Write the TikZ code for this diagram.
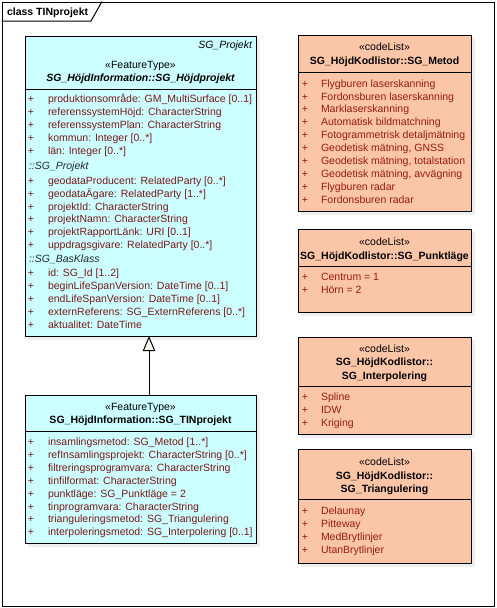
\documentclass[tikz,border=0pt]{standalone}
\usepackage{fontspec}
\setmainfont{Liberation Sans}
\usetikzlibrary{arrows.meta}
\definecolor{ftfill}{RGB}{204,255,255}
\definecolor{clfill}{RGB}{251,197,167}
\definecolor{attrcol}{RGB}{120,24,24}
\definecolor{clcol}{RGB}{150,28,18}
\definecolor{tipfill}{RGB}{248,244,236}
\definecolor{shadowcol}{RGB}{238,238,238}
\begin{document}
\begin{tikzpicture}[x=1pt,y=-1pt,
  box/.style={draw=black, line width=1pt, anchor=north west, inner sep=0, outer sep=0},
  ftbox/.style={box, fill=ftfill},
  clbox/.style={box, fill=clfill},
  shade/.style={fill=shadowcol, draw=none},
  txt/.style={inner sep=0, outer sep=0, font=\fontsize{10.5}{12}\selectfont},
  attr/.style={txt, anchor=base west, text=attrcol},
  plus/.style={txt, anchor=base, text=attrcol},
  clattr/.style={txt, anchor=base west, text=clcol},
  clplus/.style={txt, anchor=base, text=clcol},
  stereo/.style={txt, anchor=base},
  cname/.style={txt, anchor=base, font=\fontsize{10.5}{12}\selectfont\bfseries},
  grp/.style={txt, anchor=base west, font=\fontsize{10.5}{12}\selectfont\itshape, text=black!85},
  sepline/.style={line width=0.9pt},
  gen/.style={line width=1pt, -{Triangle[length=15pt, width=12.5pt, fill=tipfill]}}
]
\useasboundingbox (0,0) rectangle (496,608);

% frame
\node[draw=black, line width=1pt, anchor=north west, inner sep=0, minimum width=492.5pt, minimum height=604pt] (frame) at (1.5,1.5) {};
\draw[line width=1pt] (1.5,21) -- (91,21) -- (102,1.5);
\node[txt, anchor=base west, font=\fontsize{10.5}{12}\selectfont\bfseries] (title) at (7,15) {class TINprojekt};

% shadows
\fill[shade] (28,39) rectangle (259.5,339.5);
\fill[shade] (28,398) rectangle (259.5,546.5);
\fill[shade] (301,38) rectangle (474.5,215);
\fill[shade] (301,232) rectangle (474.5,316);
\fill[shade] (301,340) rectangle (474.5,437.5);
\fill[shade] (301,452) rectangle (474.5,566.5);

% ===== SG_Höjdprojekt
\node[ftbox, minimum width=231pt, minimum height=300pt] (b1) at (25,36) {};
\node[txt, anchor=base east, font=\fontsize{10.5}{12}\selectfont\itshape] (b1ns) at (252,48.8) {SG\_Projekt};
\node[stereo] (b1st) at (140.5,68.3) {«FeatureType»};
\node[cname, font=\fontsize{10.5}{12}\selectfont\bfseries\itshape] (b1nm) at (140.5,81) {SG\_HöjdInformation::SG\_Höjdprojekt};
\draw[sepline] (b1.west |- 0,89) -- (b1.east |- 0,89);
\foreach \t [count=\i from 0] in {{produktionsområde: GM\_MultiSurface [0..1]},{referenssystemHöjd: CharacterString},{referenssystemPlan: CharacterString},{kommun: Integer [0..*]},{län: Integer [0..*]}}
 { \node[plus] (b1p\i) at (31,{102.8+12.9*\i}) {+}; \node[attr] (b1a\i) at (48,{102.8+12.9*\i}) {\t}; }
\node[grp] (b1g1) at (29,169.8) {::SG\_Projekt};
\foreach \t [count=\i from 0] in {{geodataProducent: RelatedParty [0..*]},{geodataÄgare: RelatedParty [1..*]},{projektId: CharacterString},{projektNamn: CharacterString},{projektRapportLänk: URI [0..1]},{uppdragsgivare: RelatedParty [0..*]}}
 { \node[plus] (b1q\i) at (31,{184.5+12.75*\i}) {+}; \node[attr] (b1b\i) at (48,{184.5+12.75*\i}) {\t}; }
\node[grp] (b1g2) at (29,262.8) {::SG\_BasKlass};
\foreach \t [count=\i from 0] in {{id: SG\_Id [1..2]},{beginLifeSpanVersion: DateTime [0..1]},{endLifeSpanVersion: DateTime [0..1]},{externReferens: SG\_ExternReferens [0..*]},{aktualitet: DateTime}}
 { \node[plus] (b1r\i) at (31,{276.1+13*\i}) {+}; \node[attr] (b1c\i) at (48,{276.1+13*\i}) {\t}; }

% ===== SG_TINprojekt
\node[ftbox, minimum width=231pt, minimum height=148pt] (b2) at (25,395) {};
\node[stereo] (b2st) at (140.5,410.8) {«FeatureType»};
\node[cname] (b2nm) at (140.5,423.3) {SG\_HöjdInformation::SG\_TINprojekt};
\draw[sepline] (b2.west |- 0,431) -- (b2.east |- 0,431);
\foreach \t [count=\i from 0] in {{insamlingsmetod: SG\_Metod [1..*]},{refInsamlingsprojekt: CharacterString [0..*]},{filtreringsprogramvara: CharacterString},{tinfilformat: CharacterString},{punktläge: SG\_Punktläge = 2},{tinprogramvara: CharacterString},{trianguleringsmetod: SG\_Triangulering},{interpoleringsmetod: SG\_Interpolering [0..1]}}
 { \node[plus] (b2p\i) at (31,{445.5+12.9*\i}) {+}; \node[attr] (b2a\i) at (48,{445.5+12.9*\i}) {\t}; }

% generalization
\coordinate (gx) at (149,0);
\draw[gen] (b2.north -| gx) -- (b1.south -| gx);

% ===== SG_Metod
\node[clbox, minimum width=173pt, minimum height=176.5pt] (c1) at (298,35) {};
\node[stereo] (c1st) at (384.5,50.8) {«codeList»};
\node[cname] (c1nm) at (384.5,64.3) {SG\_HöjdKodlistor::SG\_Metod};
\draw[sepline] (c1.west |- 0,72) -- (c1.east |- 0,72);
\foreach \t [count=\i from 0] in {{Flygburen laserskanning},{Fordonsburen laserskanning},{Marklaserskanning},{Automatisk bildmatchning},{Fotogrammetrisk detaljmätning},{Geodetisk mätning, GNSS},{Geodetisk mätning, totalstation},{Geodetisk mätning, avvägning},{Flygburen radar},{Fordonsburen radar}}
 { \node[clplus] (c1p\i) at (305,{87.1+12.9*\i}) {+}; \node[clattr] (c1a\i) at (321,{87.1+12.9*\i}) {\t}; }

% ===== SG_Punktläge
\node[clbox, minimum width=173pt, minimum height=83.5pt] (c2) at (298,229) {};
\node[stereo] (c2st) at (384.5,245.8) {«codeList»};
\node[cname] (c2nm) at (384.5,259.3) {SG\_HöjdKodlistor::SG\_Punktläge};
\draw[sepline] (c2.west |- 0,266) -- (c2.east |- 0,266);
\node[clplus] (c2p0) at (305,280.8) {+}; \node[clattr] (c2a0) at (321,280.8) {Centrum = 1};
\node[clplus] (c2p1) at (305,293.8) {+}; \node[clattr] (c2a1) at (321,293.8) {Hörn = 2};

% ===== SG_Interpolering
\node[clbox, minimum width=173pt, minimum height=97pt] (c3) at (298,337) {};
\node[stereo] (c3st) at (384.5,352.8) {«codeList»};
\node[cname] (c3n1) at (384.5,365.8) {SG\_HöjdKodlistor::};
\node[cname] (c3n2) at (384.5,379.3) {SG\_Interpolering};
\draw[sepline] (c3.west |- 0,386) -- (c3.east |- 0,386);
\foreach \t [count=\i from 0] in {{Spline},{IDW},{Kriging}}
 { \node[clplus] (c3p\i) at (305,{400.8+12.8*\i}) {+}; \node[clattr] (c3a\i) at (321,{400.8+12.8*\i}) {\t}; }

% ===== SG_Triangulering
\node[clbox, minimum width=173pt, minimum height=114pt] (c4) at (298,449) {};
\node[stereo] (c4st) at (384.5,465.8) {«codeList»};
\node[cname] (c4n1) at (384.5,479.3) {SG\_HöjdKodlistor::};
\node[cname] (c4n2) at (384.5,492.3) {SG\_Triangulering};
\draw[sepline] (c4.west |- 0,499.5) -- (c4.east |- 0,499.5);
\foreach \t [count=\i from 0] in {{Delaunay},{Pitteway},{MedBrytlinjer},{UtanBrytlinjer}}
 { \node[clplus] (c4p\i) at (305,{514.3+12.9*\i}) {+}; \node[clattr] (c4a\i) at (321,{514.3+12.9*\i}) {\t}; }
\end{tikzpicture}
\end{document}
